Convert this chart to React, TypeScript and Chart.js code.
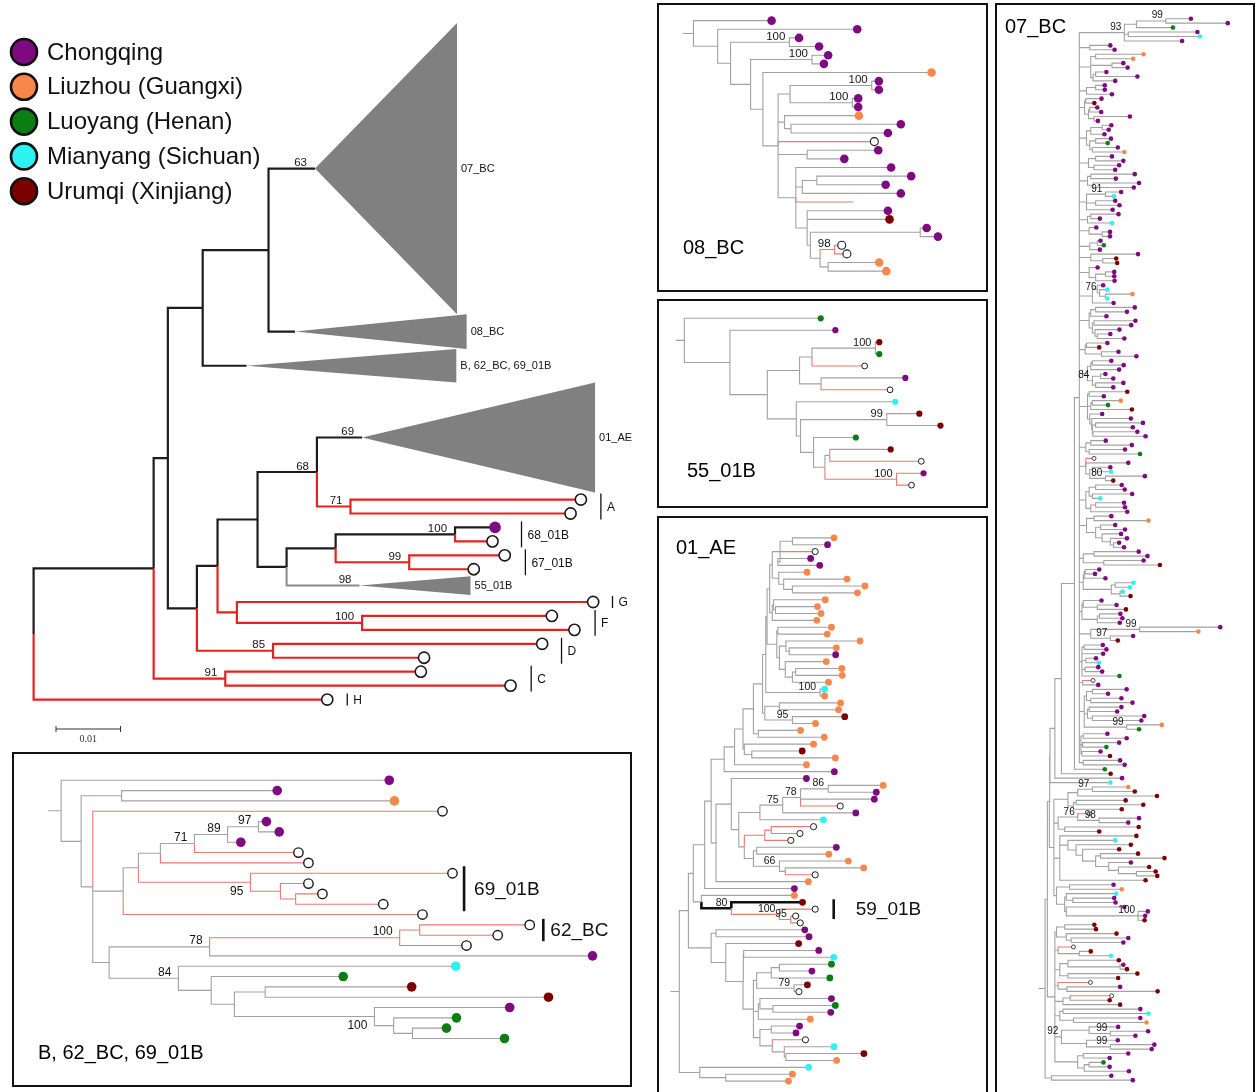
import React, { useEffect, useRef } from "react";
import { Chart, registerables } from "chart.js";

Chart.register(...registerables);

// ===================== DATA =====================
// Sampling sites (legend)
const legendLabels = ["Chongqing", "Liuzhou (Guangxi)", "Luoyang (Henan)", "Mianyang (Sichuan)", "Urumqi (Xinjiang)"];
const legendCodes = ["P", "O", "G", "C", "R"];
const siteColors: Record<string, string> = {
  P: "#7f0a7f", O: "#f7874b", G: "#0b7d11", C: "#2df2f2", R: "#7d0000", W: "#ffffff",
};

// Main tree: depths in 0.001 substitutions/site. Leaf codes: P/O/G/C/R site, W reference (open circle),
// N no marker, @k collapsed clade k.  Flags after "/": r red branch, k black, K thick black, b label below.
const cladeNames = ["07_BC", "08_BC", "B, 62_BC, 69_01B", "01_AE", "55_01B"];
const cladeHeights = [20.9, 2.5, 2.4, 7.9, 1.35];
const cladeTipDepths = [65.6, 67.1, 65.5, 87.0, 67.7];

const mainBracketNames = ["A", "68_01B", "67_01B", "G", "F", "D", "C", "H"];
const mainBracketDepths = [87.9, 75.6, 76.2, 89.7, 87.0, 81.8, 77.1, 48.6];
const mainBracketFirst = [4, 6, 8, 11, 12, 14, 16, 18];
const mainBracketLast = [5, 7, 9, 11, 13, 15, 17, 18];

const scaleBarValue = 10; // 0.01 subst./site
const scaleBarLabel = "0.01";

const mainTree = `
(
  (
    (
      (
        (@0'63/k:43.6,@1/k:40.5)/k:36.4,
        @2/k:33.0
      )/k:26.2,
      (
        (
          (
            (@3'69/k:50.9,(W/r:84.8,W/r:83.2)'71/r:49.1)'68/k:43.9,
            (
              (
                (P/k:71.5,W/r:71.1)'100/k:65.3,
                (W/r:73.0,W/r:68.2)'99/r:58.2
              )/k:46.8,
              @4'98:50.5
            )/k:39.2
          )/k:34.7,
          (W/r:86.7,(W/r:80.3,W/r:83.8)'100/r:50.9)/r:31.5
        )/k:28.5,
        (W/r:78.8,W/r:60.5)'85/r:37.1
      )/k:25.3
    )/k:20.8,
    (W/r:60.0,W/r:73.9)'91/r:29.7
  )/k:18.6,
  W/r:45.5
)/k:0`;

// Sub-trees (depth in panel units)
const treeB = `(P:957,((P:677,O:970):288,(W/r:1090,((((((P:650,P:682)'97:630,P:586)'89:553,W/r:730)'71:470,W/r:755):385,(W/r:1115,(W/r:755,(W/r:790,W/r:942)/r:723)/r:685)'95/rb:610):330,W/r:1040):292,((((W/r:1308,W/r:1228)/r:1033,W/r:1150)'100/r:983,P:1465)'78:508,(C:1123,(G:842,((R:1013,R:1355):647,(P:1258,(G:1125,(G:1100,G:1245):1015):968)'100/b:920):570):512)'84:430):257):216):187):137):97`;

const tree08BC = `(P:345,(P:610,((P:430,P:492)'100:400,((P:520,P:507)'100:470,(O:840,(((P:677,P:677)'100:655,(P:613,P:613)'100:595):402,(O:615,(P:745,P:705):405):385,W/r:663,(P:675,P:570):455,(P:715,((P:777,P:698):485,P:745):440,N/r:598,(P:705,R:710,((P:825,P:860):805,((W/r:562,W/r:578)'98/r:540,(O:678,O:700):520):495):465):455):420):365):318):280):218):178):103`;

const tree55 = `(G:497,(P:542,((((R:677,G:677)'100:665,W/r:632):470,(P:757,W/r:710):498):432,(C:726,((R:800,R:865)'99:700,(G:605,((R:712,W/r:806):525,(P/r:813,W/r:776)'100/r:730):510):475):435):422):333):218):78`;

const treeAE = `
(((((
(((((((((
((O:538,P:518):410,W/r:480,(P:466,P:494):365):372,
(O:455,(O:578,(O:633,O:610):410):383):368):348,
((O:511,(O:487,O:498):358):352,O:485):348):340,
((O:530,O:517):365,((O:618,(O:545,P:543):400):390,(O:514,((O:562,O:563):420,O:521):410):388):370):362):332,
(C:509,O:509)'100:495):328,
((O:558,O:552):370,(R:571,O:481)'95:410):325):318,
(O:435,O:508):305):290,
(O:475,(R:440,O:542):285):262):258,
O:453):232,
P:539):200,
((P:453,(((((O:689,P:668)'86:520,P:662,W/r:557)'78:435,P:605)'75:380,C:505):310,(((W/r:475,W/r:433)/r:345,W/r:405)/r:325,((P:545,O:522):300,(O:582,(O:629,W/r:480):388)'66:370):290):262):245):222,O:459):175
):160,
P:416):140,
(O:416,(R/K:441,(W/r:480,(W/r:420,W/r:434)'95/r:405)'100/r:370)'80/K:222):130
):105,
((P:448,P:461):175,(R:429,((P:491,C:537):260,((((G:530,P:470):370,G:525):345,(R:456,W/r:430)'79:415):300,((P:530,(G:542,P:528):350):310,O:465):305,((P:432,P:421):345,(W/r:450,(C:538,(R:630,O:546):390):385):348):310):290):258):205):160
):90,
(C:460,(O:410,O:398):205):125
):62`;

const tree07BC = `
((((((((
 (((P:592,P:705)'99:515,G:537):425,(P:612,C:620):400,P:565)'93:388,
 (P:345,P:358):282,
 ((O:447,O:415):300,(P:385,P:398):350,((P:333,P:428):300,P:360):292):285,
 ((P:328,P:328):300,P:350):272,
 ((P:318,R:296):270,((P:305,P:317):282,(P:405,P:307):295):278):266,
 (((P:348,P:340):320,P:327):285,((P:347,G:337):300,(P:368,O:388):290):282):272,
 ((P:350,P:385):300,(P:372,P:360):295):278,
 ((P:420,P:362):285,(P:433,P:417):292):275,
 ((P:378,C:356)'91:330,(P:360,P:373):300,P:352):272,
 ((P:370,P:313):285,C:350):275,
 (P:302,(P:344,P:344):320):280,
 ((P:315,G:325):305,P:313):282,
 (P:430,(R:363,R:366):322):285,
 (P:306,((P:357,P:357):330,P:358):300):280,
 ((P:323,(C:336,(O:413,C:336):330)'76:312):305,P:355):290,
 (((P:420,P:396):300,P:333):285,((P:422,P:409):295,(P:373,(P:345,P:388):305):298):290):280,
 ((P:336,R:311):272,(P:370,P:425):318):268,
 (((P:348,P:386):290,P:372):285,((P:330,P:354):315,(P:385,P:354):300)'84:290):275,
 ((R:397,P:325):280,((O:377,G:338):290,R:411):285,(P:320,(P:408,((P:445,P:414):300,(P:428,P:453):292):290):288):282):275,
 ((P:331,P:411):285,(P:390,G:436):280):270,
 (W/r:295,P:400,((P:345,C:347):290,(P:451,R:354)'80:330):282):270,
 (((P:380,P:389):300,(P:412,C:314):290):280,((P:387,P:390):300,P:397):285):270,
 ((P:348,O:462):295,((P:360,P:390):315,(P:378,(P:396,(P:372,P:387):355):345):320):300):272,
 ((P:432,P:459):295,(P:447,R:497):325):262,
 (((P:311,P:298):268,P:330):265,((C:416,C:405):360,(C:383,R:407):375):348):262,
 ((P:318,(P:364,R:393):305):262,((P:376,P:382):312,P:374):305):258,
 ((P:682,O:615)'99:435,(P:415,R:368)'97:345):285,
 ((P:322,P:333):265,P:323,(P:301,C:310):270,(P:308,P:320):268,G:373):258,
 (W/r:292,P:308):260,
 (((P:395,P:338):290,(P:379,P:413):285):272,((P:379,P:366):280,(P:449,P:440):290):275,(O:503,G:433)'99:395):265,
 ((P:336,P:395):262,(P:372,G:333):260,(P:315,R:344):258):255,
 (P:375,P:389):262
 ):250,G:328):235,R:346):195,P:381):175,C:345):160,
 (
  (((O:400,R:420)'97:290,R:488):245,((R:392,R:446):240,R:380):232):215,
  ((W/r:280,(P:433,P:400)'98:310)'76:245,(R:432,R:311):205):185,
  (R:425,(C:360,(R:408,(R:372,((R:430,R:511):315,(P:408,(R:464,(R:484,R:489):425):370):340):300):260):240):215,R:453):190,
  ((P:355,O:380):220,((C:363,(P:357,P:361):230):210,(P:388,(P:460,P:452,R:450)'100:430):210):205):180
 ):172
):158,
(
 ((R:296,R:301):205,(R:364,(P:400,P:385):225):210):180,
 (W/r:232,(R:285,C:347):250):185,
 ((R:371,(P:385,R:396):375):215,(R:428,R:369):215):190,
 (W/r:284,(P:375,R:490):212):185,
 ((W/r:349,R:343):222,R:375):200,
 ((P:437,C:462):200,(P:437,O:456):232):190,
 ((P:369,(P:461,P:422)'99:345):280,(P:368,(P:480,P:472)'99:345):272)'92:195,
 ((P:400,P:343):262,((G:324,P:343):280,P:402):265):245
):175
):152,
(P:348,P:414):165
):145`;

// ===================== TREE HELPERS =====================
type TNode = {
  children: TNode[]; code: string | null; label: string; flags: string;
  depth: number; y: number; top: number; bottom: number;
};

function parseNewick(src: string): TNode {
  const s = src.replace(/\s+/g, "");
  let i = 0;
  const readUntil = (stops: string) => {
    let t = "";
    while (i < s.length && stops.indexOf(s[i]) < 0) t += s[i++];
    return t;
  };
  const node = (): TNode => {
    const n: TNode = { children: [], code: null, label: "", flags: "", depth: 0, y: 0, top: 0, bottom: 0 };
    if (s[i] === "(") {
      i++;
      for (;;) {
        n.children.push(node());
        if (s[i] === ",") { i++; continue; }
        if (s[i] === ")") { i++; break; }
        throw new Error("Newick error at " + i + " near " + s.slice(i - 10, i + 10));
      }
    } else n.code = readUntil("'/:,()");
    if (s[i] === "'") { i++; n.label = readUntil("/:,()"); }
    if (s[i] === "/") { i++; n.flags = readUntil(":,()"); }
    if (s[i] === ":") { i++; n.depth = parseFloat(readUntil(",()")); }
    return n;
  };
  return node();
}

function layoutTree(root: TNode, heightOf: (c: string) => number): TNode[] {
  let cursor = 0;
  const leaves: TNode[] = [];
  const walk = (n: TNode) => {
    if (!n.children.length) {
      const h = heightOf(n.code || "");
      n.top = cursor; n.bottom = cursor + h; n.y = cursor + h / 2; cursor += h;
      leaves.push(n);
    } else {
      n.children.forEach(walk);
      n.y = (n.children[0].y + n.children[n.children.length - 1].y) / 2;
    }
  };
  walk(root);
  return leaves;
}

function eachNode(n: TNode, f: (n: TNode) => void) {
  f(n);
  n.children.forEach((c) => eachNode(c, f));
}

type Pt = { x: number | null; y: number | null };
function collectSegments(root: TNode) {
  const groups: Record<string, Pt[]> = { gray: [], red: [], black: [], thick: [] };
  const visit = (n: TNode) => {
    n.children.forEach((c) => {
      const key = c.flags.includes("r") ? "red" : c.flags.includes("K") ? "thick" : c.flags.includes("k") ? "black" : "gray";
      groups[key].push({ x: n.depth, y: n.y }, { x: n.depth, y: c.y }, { x: c.depth, y: c.y }, { x: null, y: null });
      visit(c);
    });
  };
  visit(root);
  return groups;
}

// ===================== PANEL LAYOUT =====================
const FONT = '"Liberation Sans", Arial, sans-serif';

type Bracket = { text: string; depth: number; first: number; last: number; ext: number; font: number; lw: number; gap: number };
type LineStyle = { color: string; width: number };
type PanelCfg = {
  key: string; left: number; top: number; width: number; height: number; tree: string;
  x0: number; xk: number; y0: number; ys: number; stub: number;
  heightOf: (c: string) => number;
  lines: Record<string, LineStyle>;
  r: number; wr: number; wbw: number; labelFont: number; labelDx: number;
  title?: string; titleX?: number; titleY?: number; titleFont?: number;
  border: boolean; openBottom?: boolean; clades?: boolean; brackets?: Bracket[]; isMain?: boolean;
};

const mainLines = {
  gray: { color: "#8a8a8a", width: 2 },
  black: { color: "#1c1c1c", width: 2.2 },
  thick: { color: "#1c1c1c", width: 2.2 },
  red: { color: "#e4221e", width: 2.2 },
};
const panelLines = {
  gray: { color: "#a2a2a2", width: 1.1 },
  black: { color: "#111111", width: 1.4 },
  thick: { color: "#111111", width: 2.6 },
  red: { color: "#ea7a74", width: 1.1 },
};
const one = () => 1;

const mainBrackets: Bracket[] = mainBracketNames.map((t, i) => ({
  text: t, depth: mainBracketDepths[i], first: mainBracketFirst[i], last: mainBracketLast[i],
  ext: 6, font: 12, lw: 1.3, gap: 6,
}));

const panels: PanelCfg[] = [
  {
    key: "main", left: 0, top: 0, width: 650, height: 750, tree: mainTree,
    x0: 27, xk: 6.6, y0: 16, ys: 14.21, stub: 0,
    heightOf: (c) => (c[0] === "@" ? cladeHeights[+c.slice(1)] : 1),
    lines: mainLines, r: 5.8, wr: 5.6, wbw: 1.6, labelFont: 11.5, labelDx: 8,
    border: false, clades: true, brackets: mainBrackets, isMain: true,
  },
  {
    key: "b", left: 12, top: 752, width: 620, height: 335, tree: treeB,
    x0: 0, xk: 1 / 2.45, y0: 775 - 10.72 / 2, ys: 10.72, stub: 32, heightOf: one,
    lines: panelLines, r: 4.8, wr: 4.7, wbw: 1.4, labelFont: 12, labelDx: 7,
    title: "B, 62_BC, 69_01B", titleX: 38, titleY: 1053, titleFont: 20, border: true,
    brackets: [
      { text: "69_01B", depth: 1144, first: 9, last: 12, ext: 7, font: 19, lw: 2.6, gap: 10 },
      { text: "62_BC", depth: 1342, first: 14, last: 15, ext: 6, font: 19, lw: 2.6, gap: 7 },
    ],
  },
  {
    key: "08", left: 657, top: 3, width: 331, height: 289, tree: tree08BC,
    x0: 655, xk: 1 / 3, y0: 16 - 8.955 / 2, ys: 8.955, stub: 33, heightOf: one,
    lines: panelLines, r: 4.3, wr: 4, wbw: 1.1, labelFont: 11.5, labelDx: 4,
    title: "08_BC", titleX: 683, titleY: 248, titleFont: 20, border: true,
  },
  {
    key: "55", left: 657, top: 299, width: 331, height: 209, tree: tree55,
    x0: 655, xk: 1 / 3, y0: 315 - 12.38 / 2, ys: 12.38, stub: 26, heightOf: one,
    lines: panelLines, r: 3.1, wr: 2.9, wbw: 1, labelFont: 11, labelDx: 4,
    title: "55_01B", titleX: 687, titleY: 471, titleFont: 20, border: true,
  },
  {
    key: "ae", left: 657, top: 516, width: 331, height: 580, tree: treeAE,
    x0: 655, xk: 1 / 3, y0: 534 - 6.975 / 2, ys: 6.975, stub: 27, heightOf: one,
    lines: panelLines, r: 3.4, wr: 3.1, wbw: 1, labelFont: 10.5, labelDx: 4,
    title: "01_AE", titleX: 676, titleY: 548, titleFont: 20, border: true, openBottom: true,
    brackets: [{ text: "59_01B", depth: 537, first: 53, last: 55, ext: 3, font: 19, lw: 2.6, gap: 22 }],
  },
  {
    key: "07", left: 995, top: 3, width: 260, height: 1095, tree: tree07BC,
    x0: 995, xk: 1 / 3, y0: 16 - 4.464 / 2, ys: 4.464, stub: 20, heightOf: one,
    lines: panelLines, r: 2.3, wr: 2, wbw: 0.8, labelFont: 10, labelDx: 3,
    title: "07_BC", titleX: 1005, titleY: 27, titleFont: 20, border: true, openBottom: true,
  },
];

// ===================== CHART BUILD =====================
function buildConfig(cfg: PanelCfg): any {
  const root = parseNewick(cfg.tree);
  const leaves = layoutTree(root, cfg.heightOf);
  const segs = collectSegments(root);
  if (cfg.stub > 0) segs.gray.push({ x: root.depth - cfg.stub, y: root.y }, { x: root.depth, y: root.y }, { x: null, y: null });

  const datasets: any[] = [];
  ["gray", "red", "black", "thick"].forEach((k) => {
    if (!segs[k].length) return;
    datasets.push({
      data: segs[k], showLine: true, spanGaps: false, borderColor: cfg.lines[k].color,
      borderWidth: cfg.lines[k].width, pointRadius: 0, pointHoverRadius: 0, order: 2,
      borderCapStyle: "butt", borderJoinStyle: "miter",
    });
  });
  ["W", "P", "O", "G", "C", "R"].forEach((code) => {
    const pts = leaves.filter((l) => l.code === code).map((l) => ({ x: l.depth, y: l.y }));
    if (!pts.length) return;
    const w = code === "W";
    datasets.push({
      data: pts, showLine: false, pointRadius: w ? cfg.wr : cfg.r, pointHoverRadius: w ? cfg.wr : cfg.r,
      backgroundColor: siteColors[code], borderColor: w ? "#1a1a1a" : siteColors[code],
      pointBorderWidth: w ? cfg.wbw : 0, order: 1,
    });
  });

  const plugin = {
    id: "treeDecor" + cfg.key,
    beforeDatasetsDraw(chart: any) {
      if (!cfg.clades) return;
      const { ctx } = chart; const xs = chart.scales.x; const ys = chart.scales.y;
      ctx.save();
      leaves.forEach((l) => {
        if (!l.code || l.code[0] !== "@") return;
        const k = +l.code.slice(1);
        const ax = xs.getPixelForValue(l.depth), ay = ys.getPixelForValue(l.y);
        const tx = xs.getPixelForValue(cladeTipDepths[k]);
        ctx.fillStyle = "#808080";
        ctx.beginPath();
        ctx.moveTo(ax, ay);
        ctx.lineTo(tx, ys.getPixelForValue(l.top));
        ctx.lineTo(tx, ys.getPixelForValue(l.bottom));
        ctx.closePath();
        ctx.fill();
        ctx.fillStyle = "#111";
        ctx.font = `11px ${FONT}`;
        ctx.textAlign = "left"; ctx.textBaseline = "middle";
        ctx.fillText(cladeNames[k], tx + 4, ay);
      });
      ctx.restore();
    },
    afterDatasetsDraw(chart: any) {
      const { ctx } = chart; const xs = chart.scales.x; const ys = chart.scales.y;
      ctx.save();
      // support values
      ctx.fillStyle = "#151515";
      ctx.font = `${cfg.labelFont}px ${FONT}`;
      ctx.textAlign = "right";
      eachNode(root, (n) => {
        if (!n.label) return;
        const px = xs.getPixelForValue(n.depth) - cfg.labelDx;
        const py = ys.getPixelForValue(n.y);
        if (n.flags.includes("b")) { ctx.textBaseline = "top"; ctx.fillText(n.label, px, py + 3); }
        else { ctx.textBaseline = "alphabetic"; ctx.fillText(n.label, px, py - 2.5); }
      });
      // brackets
      (cfg.brackets || []).forEach((b) => {
        const x = xs.getPixelForValue(b.depth);
        const y1 = ys.getPixelForValue(leaves[b.first].y) - b.ext;
        const y2 = ys.getPixelForValue(leaves[b.last].y) + b.ext;
        ctx.strokeStyle = "#111"; ctx.lineWidth = b.lw;
        ctx.beginPath(); ctx.moveTo(x, y1); ctx.lineTo(x, y2); ctx.stroke();
        ctx.fillStyle = "#111"; ctx.font = `${b.font}px ${FONT}`;
        ctx.textAlign = "left"; ctx.textBaseline = "middle";
        ctx.fillText(b.text, x + b.gap, (y1 + y2) / 2 + 1);
      });
      // title
      if (cfg.title) {
        ctx.fillStyle = "#000"; ctx.font = `${cfg.titleFont}px ${FONT}`;
        ctx.textAlign = "left"; ctx.textBaseline = "middle";
        ctx.fillText(cfg.title, (cfg.titleX as number) - cfg.left, (cfg.titleY as number) - cfg.top);
      }
      // frame
      if (cfg.border) {
        ctx.strokeStyle = "#111"; ctx.lineWidth = 2;
        ctx.strokeRect(1, 1, cfg.width - 2, cfg.openBottom ? cfg.height + 20 : cfg.height - 2);
      }
      if (cfg.isMain) {
        // legend
        legendLabels.forEach((lab, i) => {
          const cy = 52 + i * 34.8;
          ctx.beginPath(); ctx.arc(24, cy, 13, 0, Math.PI * 2);
          ctx.fillStyle = siteColors[legendCodes[i]]; ctx.fill();
          ctx.lineWidth = 2.6; ctx.strokeStyle = "#111"; ctx.stroke();
          ctx.fillStyle = "#111"; ctx.font = `24px ${FONT}`;
          ctx.textAlign = "left"; ctx.textBaseline = "middle";
          ctx.fillText(lab, 47, cy + 1);
        });
        // scale bar
        const len = xs.getPixelForValue(scaleBarValue) - xs.getPixelForValue(0);
        const bx = 56, by = 729;
        ctx.strokeStyle = "#333"; ctx.lineWidth = 1;
        ctx.beginPath();
        ctx.moveTo(bx, by); ctx.lineTo(bx + len, by);
        ctx.moveTo(bx, by - 3); ctx.lineTo(bx, by + 3);
        ctx.moveTo(bx + len, by - 3); ctx.lineTo(bx + len, by + 3);
        ctx.stroke();
        ctx.fillStyle = "#333"; ctx.font = `10px "Liberation Serif", serif`;
        ctx.textAlign = "center"; ctx.textBaseline = "middle";
        ctx.fillText(scaleBarLabel, bx + len / 2, by + 10);
      }
      ctx.restore();
    },
  };

  return {
    type: "scatter",
    data: { datasets },
    options: {
      animation: false, responsive: false, maintainAspectRatio: false, events: [],
      layout: { padding: 0 },
      plugins: { legend: { display: false }, tooltip: { enabled: false } },
      scales: {
        x: { type: "linear", display: false, min: (cfg.left - cfg.x0) / cfg.xk, max: (cfg.left + cfg.width - cfg.x0) / cfg.xk },
        y: { type: "linear", display: false, reverse: true, min: (cfg.top - cfg.y0) / cfg.ys, max: (cfg.top + cfg.height - cfg.y0) / cfg.ys },
      },
    },
    plugins: [plugin],
  };
}

function TreePanel({ cfg }: { cfg: PanelCfg }) {
  const ref = useRef<HTMLCanvasElement>(null);
  useEffect(() => {
    if (!ref.current) return;
    const chart = new Chart(ref.current, buildConfig(cfg));
    return () => chart.destroy();
  }, [cfg]);
  return (
    <div style={{ position: "absolute", left: cfg.left, top: cfg.top, width: cfg.width, height: cfg.height }}>
      <canvas ref={ref} width={cfg.width} height={cfg.height} style={{ width: cfg.width, height: cfg.height }} />
    </div>
  );
}

export default function App() {
  return (
    <div style={{ position: "fixed", left: 0, top: 0, width: 1259, height: 1092, overflow: "hidden", background: "#fff" }}>
      {panels.map((p) => (
        <TreePanel key={p.key} cfg={p} />
      ))}
    </div>
  );
}
